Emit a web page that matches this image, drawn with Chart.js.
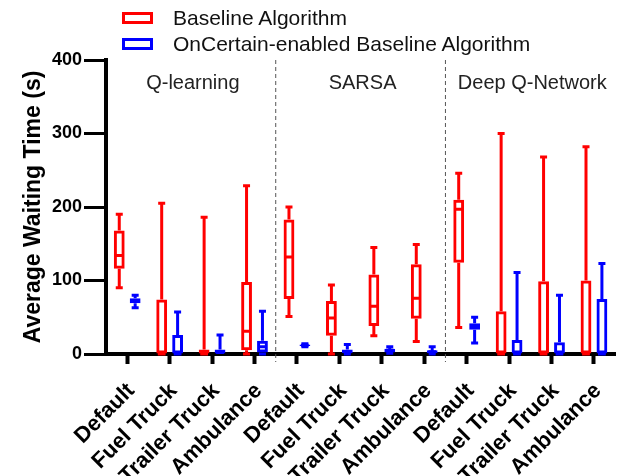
<!DOCTYPE html>
<html>
<head>
<meta charset="utf-8">
<script src="https://cdn.jsdelivr.net/npm/chart.js@4"></script>
<style>
    html, body { margin: 0; padding: 0; background: #fff; }
    #wrap { position: relative; width: 627px; height: 476px; overflow: hidden; }
    #chart { position: absolute; left: 0; top: 0; }
    .legend-item { position: absolute; left: 122px; height: 26px; display: flex; align-items: center;
        font-family: "Liberation Sans", Arial, sans-serif; font-size: 21px; color: #111; white-space: nowrap; }
    .legend-box { width: 31px; height: 12px; box-sizing: border-box; border: 3px solid; margin-right: 20px; }
</style>
</head>
<body>
<div id="wrap">
    <canvas id="chart" width="627" height="476"></canvas>
    <div class="legend-item" style="top:5px"><span class="legend-box" style="border-color:#ff0000"></span>Baseline Algorithm</div>
    <div class="legend-item" style="top:31px"><span class="legend-box" style="border-color:#0000ff"></span>OnCertain-enabled Baseline Algorithm</div>
</div>
<script>
const categories = ['Default', 'Fuel Truck', 'Trailer Truck', 'Ambulance',
    'Default', 'Fuel Truck', 'Trailer Truck', 'Ambulance',
    'Default', 'Fuel Truck', 'Trailer Truck', 'Ambulance'];

const groups = ['Q-learning', 'SARSA', 'Deep Q-Network'];

// Baseline Algorithm (red)
const baselineMin = [90, 0, 0, 0, 51, 0, 25, 17, 36, 0, 0, 0];
const baselineQ1 = [116, 0, 0, 5, 75, 25, 38, 48, 124, 0, 0, 0];
const baselineMedian = [134, 0, 0, 31, 132, 49, 65, 76, 197, 0, 0, 0];
const baselineQ3 = [168, 74, 6, 98, 183, 72, 108, 122, 210, 58, 99, 100];
const baselineMax = [190, 205, 186, 229, 200, 94, 145, 149, 246, 300, 268, 282];

// OnCertain-enabled Baseline Algorithm (blue)
const onCertainMin = [63, 0, 0, 0, 10, 0, 1, 0, 15, 0, 0, 0];
const onCertainQ1 = [69, 0, 0, 2, 11, 1, 2, 1, 33, 0, 0, 0];
const onCertainMedian = [72, 0, 2, 10, 12, 3, 5, 3, 38, 0, 0, 0];
const onCertainQ3 = [76, 26, 6, 18, 13, 6, 7, 5, 42, 19, 16, 75];
const onCertainMax = [80, 57, 26, 58, 14, 13, 10, 10, 50, 111, 80, 123];

const yTicks = [0, 100, 200, 300, 400];

const RED = '#ff0000';
const BLUE = '#0000ff';

// whiskers, caps and medians on top of the floating bars
const boxWhiskers = {
    id: 'boxWhiskers',
    afterDatasetsDraw(chart) {
        const { ctx, scales: { y } } = chart;
        chart.data.datasets.forEach((ds, di) => {
            const meta = chart.getDatasetMeta(di);
            meta.data.forEach((bar, i) => {
                const x = bar.x;
                const half = bar.width / 2 - 1.5;
                const yMin = y.getPixelForValue(ds.mins[i]);
                const yQ1 = y.getPixelForValue(ds.data[i][0]);
                const yQ3 = y.getPixelForValue(ds.data[i][1]);
                const yMax = y.getPixelForValue(ds.maxs[i]);
                const yMed = y.getPixelForValue(ds.medians[i]);

                ctx.save();
                ctx.strokeStyle = ds.borderColor;
                ctx.lineWidth = 3;
                ctx.beginPath();
                if (ds.maxs[i] > ds.data[i][1]) {
                    ctx.moveTo(x, yQ3);
                    ctx.lineTo(x, yMax);
                    ctx.moveTo(x - 3.5, yMax);
                    ctx.lineTo(x + 3.5, yMax);
                }
                if (ds.mins[i] < ds.data[i][0]) {
                    ctx.moveTo(x, yQ1);
                    ctx.lineTo(x, yMin);
                    ctx.moveTo(x - 3.5, yMin);
                    ctx.lineTo(x + 3.5, yMin);
                }
                ctx.moveTo(x - half, yMed);
                ctx.lineTo(x + half, yMed);
                ctx.stroke();
                ctx.restore();
            });
        });
    }
};

// dashed separators and group names
const groupLabels = {
    id: 'groupLabels',
    afterDraw(chart) {
        const { ctx, chartArea, scales: { x } } = chart;
        const per = categories.length / groups.length;
        ctx.save();
        ctx.strokeStyle = '#555';
        ctx.lineWidth = 1;
        ctx.setLineDash([4, 3]);
        for (let g = 1; g < groups.length; g++) {
            const xp = (x.getPixelForValue(g * per - 1) + x.getPixelForValue(g * per)) / 2;
            ctx.beginPath();
            ctx.moveTo(xp, chartArea.top);
            ctx.lineTo(xp, chartArea.bottom + 8);
            ctx.stroke();
        }
        ctx.setLineDash([]);
        ctx.fillStyle = '#222';
        ctx.font = '20px "Liberation Sans", Arial, sans-serif';
        ctx.textAlign = 'center';
        ctx.textBaseline = 'middle';
        const step = x.getPixelForValue(1) - x.getPixelForValue(0);
        groups.forEach((name, g) => {
            const left = x.getPixelForValue(g * per) - step / 2;
            const right = x.getPixelForValue(g * per + per - 1) + step / 2;
            ctx.fillText(name, (left + right) / 2 + 2, 83);
        });
        ctx.restore();
    }
};

new Chart(document.getElementById('chart'), {
    type: 'bar',
    data: {
        labels: categories,
        datasets: [
            {
                label: 'Baseline Algorithm',
                data: baselineQ1.map((v, i) => [v, baselineQ3[i]]),
                mins: baselineMin,
                medians: baselineMedian,
                maxs: baselineMax,
                borderColor: RED,
                backgroundColor: 'rgba(255,255,255,0)',
                borderWidth: 3,
                borderSkipped: false
            },
            {
                label: 'OnCertain-enabled Baseline Algorithm',
                data: onCertainQ1.map((v, i) => [v, onCertainQ3[i]]),
                mins: onCertainMin,
                medians: onCertainMedian,
                maxs: onCertainMax,
                borderColor: BLUE,
                backgroundColor: 'rgba(255,255,255,0)',
                borderWidth: 3,
                borderSkipped: false
            }
        ]
    },
    options: {
        responsive: false,
        animation: false,
        categoryPercentage: 0.75,
        barPercentage: 0.68,
        layout: { padding: { top: 60, right: 9, left: 0, bottom: 0 } },
        plugins: {
            legend: { display: false },
            tooltip: { enabled: false }
        },
        scales: {
            x: {
                grid: { offset: false, drawOnChartArea: false, tickLength: 10, tickWidth: 4, tickColor: '#000' },
                border: { color: '#000', width: 4 },
                ticks: {
                    color: '#000',
                    font: { family: '"Liberation Sans", Arial, sans-serif', size: 22, weight: 'bold' },
                    minRotation: 45,
                    maxRotation: 45,
                    padding: 14,
                    labelOffset: 4,
                    autoSkip: false
                },
                afterFit(scale) { scale.height = 122; }
            },
            y: {
                min: 0,
                max: 400,
                afterBuildTicks(scale) { scale.ticks = yTicks.map(v => ({ value: v })); },
                grid: { drawOnChartArea: false, tickLength: 22, tickWidth: 3, tickColor: '#000' },
                border: { color: '#000', width: 4 },
                ticks: {
                    color: '#000',
                    padding: 2,
                    font: { family: '"Liberation Sans", Arial, sans-serif', size: 18, weight: 'bold' }
                },
                title: {
                    display: true,
                    text: 'Average Waiting Time (s)',
                    color: '#000',
                    padding: { top: 20, bottom: 0 },
                    font: { family: '"Liberation Sans", Arial, sans-serif', size: 23, weight: 'bold' }
                },
                afterFit(scale) { scale.width = 106; }
            }
        }
    },
    plugins: [boxWhiskers, groupLabels]
});
</script>
</body>
</html>
